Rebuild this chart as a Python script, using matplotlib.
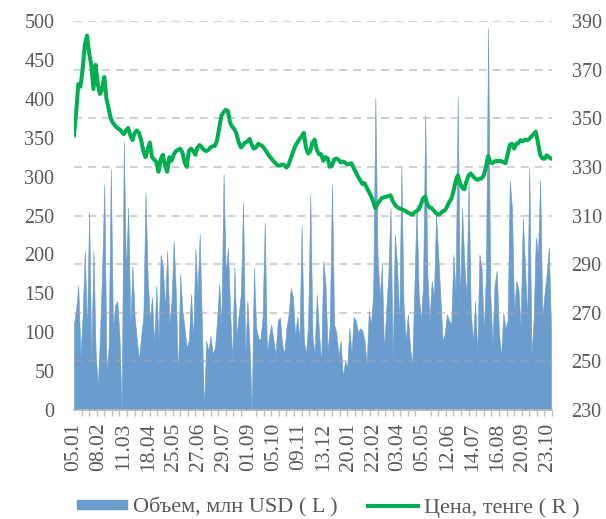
import numpy as np
import matplotlib

matplotlib.use("Agg")
import matplotlib.pyplot as plt
from matplotlib.patches import Patch
from matplotlib.lines import Line2D

plt.rcParams["font.family"] = ["Liberation Serif", "DejaVu Serif"]

# every second trading day, 05.01 .. 23.10
volume = [
    110, 130, 160, 70, 120, 205, 100, 255, 65, 205,
    75, 30, 95, 180, 290, 50, 80, 310, 105, 135,
    140, 95, 0, 345, 175, 260, 110, 185, 120, 90,
    65, 95, 120, 280, 170, 115, 145, 85, 160, 90,
    200, 185, 130, 205, 110, 140, 217, 150, 42, 175,
    128, 105, 80, 90, 149, 90, 207, 150, 226, 110,
    0, 89, 76, 95, 72, 80, 115, 162, 110, 303,
    175, 209, 130, 63, 183, 95, 123, 150, 267, 68,
    140, 80, 0, 183, 106, 93, 90, 120, 241, 72,
    95, 110, 90, 72, 115, 119, 85, 72, 106, 123,
    157, 145, 95, 120, 90, 237, 90, 72, 110, 277,
    95, 72, 149, 100, 59, 192, 162, 75, 110, 290,
    110, 100, 70, 89, 42, 63, 55, 106, 72, 120,
    115, 100, 105, 102, 89, 59, 128, 110, 150, 401,
    200, 145, 187, 76, 128, 175, 260, 63, 226, 187,
    110, 312, 136, 89, 123, 80, 59, 157, 264, 150,
    115, 160, 380, 175, 115, 166, 145, 252, 200, 145,
    89, 98, 123, 115, 110, 200, 150, 401, 132, 260,
    190, 145, 295, 125, 89, 140, 72, 200, 183, 100,
    175, 491, 150, 85, 162, 179, 100, 68, 125, 105,
    115, 295, 260, 125, 166, 155, 106, 247, 187, 115,
    312, 72, 115, 222, 200, 295, 120, 149, 175, 209,
    106,
]

price = [
    343, 352, 364, 363, 370, 380, 384, 377, 372, 362,
    372, 364, 360, 362, 367, 358, 354, 350, 348, 347,
    346, 345.5, 344.5, 343.5, 345, 346, 343, 341, 344, 345,
    344, 341, 336.5, 334, 337, 340, 334, 333, 332, 328,
    333, 335, 331, 328, 334, 332.5, 335, 336.5, 337, 337.5,
    336, 332, 330, 336.5, 337.5, 336.5, 335, 338, 339, 338,
    337, 336.5, 337, 338, 338.5, 338.6, 341, 346, 351, 352.5,
    353.5, 353, 348.2, 346.5, 345.5, 343.5, 340, 338, 339, 340,
    340.5, 341.5, 339, 337.5, 338, 339.5, 339, 338.5, 337.3, 336,
    334.5, 333.5, 332.4, 331.5, 330.6, 330.5, 331, 330.8, 329.7, 331,
    333.5, 336, 338.5, 340, 341.4, 342.5, 344, 338, 335.5, 336.5,
    340, 341.2, 337, 335.2, 335.2, 332.5, 334, 333.5, 330, 330.5,
    333, 333.5, 333, 331.8, 332.2, 331.8, 331, 331.3, 331.5, 329.5,
    327.8, 326, 324.5, 323, 323.3, 321.5, 319.8, 318, 315.8, 313,
    314.8, 316, 317.2, 317.5, 317.7, 318, 318.3, 316, 314.5, 313.5,
    313, 312.6, 312.3, 311.8, 311.2, 310.8, 310.3, 311.2, 311.8, 312.5,
    314.5, 317, 317.8, 314.5, 313.3, 313, 312, 311, 310.3, 310.8,
    311.7, 312, 313.5, 315.5, 316.8, 319.8, 324, 326.5, 323.5, 321.5,
    320.8, 324, 326.5, 327.3, 326.2, 325.2, 324.7, 325, 325.3, 326.5,
    329.8, 334.5, 332, 331.5, 332.3, 332.4, 332.4, 332.4, 332, 331.5,
    335, 339, 339.5, 337.5, 339.5, 339.8, 341, 340.5, 341.2, 341,
    341.5, 342.5, 343.5, 344.5, 340, 335, 333.5, 333.3, 334.8, 334,
    333.5,
]

tick_labels = ["05.01", "08.02", "11.03", "18.04", "25.05", "27.06", "29.07",
               "01.09", "05.10", "09.11", "13.12", "20.01", "22.02", "03.04",
               "05.05", "12.06", "14.07", "16.08", "20.09", "23.10"]
label_step = 23   # trading days between labels
tick_step = 7     # trading days between tick marks
n_days = 442

BLUE = "#6b9cce"
GREEN = "#00b050"
GREY = "#595959"

days = np.arange(len(volume)) * 2

fig = plt.figure(figsize=(6.06, 5.19), dpi=100)
ax = fig.add_axes([0.122, 0.21, 0.789, 0.7495])
ax2 = ax.twinx()

ax.fill_between(days, 0, volume, color=BLUE, linewidth=0.4, edgecolor=BLUE)
ax2.plot(days, price, color=GREEN, linewidth=2.9, solid_joinstyle="round", zorder=3)

ax.set_xlim(0, n_days - 1)
ax.set_ylim(0, 500)
ax2.set_ylim(230, 390)
ax.set_yticks(np.arange(0, 501, 50))
ax2.set_yticks(np.arange(230, 391, 20))

ax.set_xticks(np.arange(len(tick_labels)) * label_step)
ax.set_xticklabels(tick_labels, rotation=90)
ax.set_xticks(np.arange(0, n_days, tick_step), minor=True)
ax.tick_params(axis="x", which="major", length=0, pad=9, labelsize=15.5, labelcolor=GREY)
ax.tick_params(axis="x", which="minor", length=4, color="#bfbfbf", width=1)
ax.tick_params(axis="y", length=0, pad=14, labelsize=14.5, labelcolor=GREY)
ax2.tick_params(axis="y", length=0, pad=14, labelsize=14.5, labelcolor=GREY)

for a in (ax, ax2):
    for side in ("top", "left", "right"):
        a.spines[side].set_visible(False)
ax2.spines["bottom"].set_visible(False)
ax.spines["bottom"].set_color("#bfbfbf")
ax.spines["bottom"].set_linewidth(1.2)

ax2.set_axisbelow(True)
ax2.grid(axis="y", color="#a6a6a6", alpha=0.5, linewidth=1.5,
         linestyle=(0, (3.8, 2.9)))

handles = [Patch(facecolor=BLUE, edgecolor=BLUE),
           Line2D([0], [0], color=GREEN, linewidth=2.9)]
fig.legend(handles, ["Объем, млн USD ( L )", "Цена, тенге ( R )"],
           loc="center", bbox_to_anchor=(0.542, 0.022), ncol=2, frameon=False,
           fontsize=16, labelcolor=GREY, handlelength=2.25, handleheight=0.3,
           handletextpad=0.27, columnspacing=1.35)

fig.savefig("out.png", dpi=100)
plt.close(fig)
